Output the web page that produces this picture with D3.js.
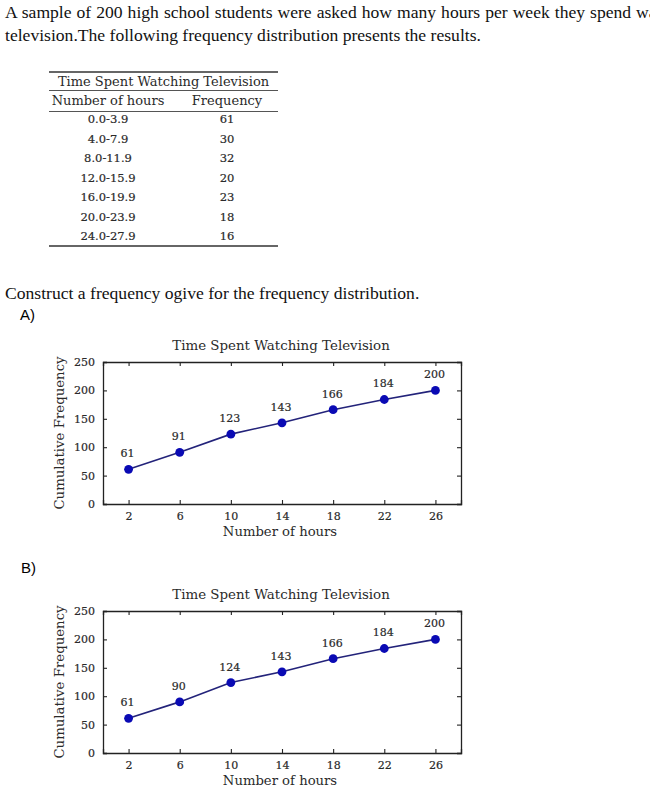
<!DOCTYPE html>
<html>
<head>
<meta charset="utf-8">
<script src="https://cdn.jsdelivr.net/npm/d3@7"></script>
<style>
  body { margin: 0; background: #fff; }
  svg { display: block; }
</style>
</head>
<body>
<div id="page"></div>
<script>
// Data
let hourRanges = ["0.0-3.9", "4.0-7.9", "8.0-11.9", "12.0-15.9", "16.0-19.9", "20.0-23.9", "24.0-27.9"];
let frequencies = [61, 30, 32, 20, 23, 18, 16];
let midpoints = [2, 6, 10, 14, 18, 22, 26];
let cumulativeA = [61, 91, 123, 143, 166, 184, 200];
let cumulativeB = [61, 90, 124, 143, 166, 184, 200];
let xTicks = [2, 6, 10, 14, 18, 22, 26];
let yTicks = [0, 50, 100, 150, 200, 250];

let times = "'Liberation Serif', serif";   // question text
let wide = "'DejaVu Serif', serif";        // LaTeX-ish table and chart text
let textColor = "#2a2a2a";
let lineColor = "#23237a";
let dotColor = "#0a0ab4";

let svg = d3.select("#page")
    .append("svg")
    .attr("width", 650)
    .attr("height", 809);

// Question text
let body = svg.append("g")
    .style("font-family", times)
    .style("font-size", "17.6px")
    .style("fill", "#111");

body.append("text").attr("x", 5).attr("y", 18)
    .attr("word-spacing", "0.6px")
    .text("A sample of 200 high school students were asked how many hours per week they spend watching");
body.append("text").attr("x", 5).attr("y", 41)
    .text("television.The following frequency distribution presents the results.");
body.append("text").attr("x", 5).attr("y", 299)
    .text("Construct a frequency ogive for the frequency distribution.");

svg.append("text").attr("x", 20).attr("y", 320)
    .style("font-family", "'Liberation Sans', sans-serif")
    .style("font-size", "15px")
    .text("A)");
svg.append("text").attr("x", 21).attr("y", 573)
    .style("font-family", "'Liberation Sans', sans-serif")
    .style("font-size", "15px")
    .text("B)");

// give the digits a bit more weight
function heavy(sel) {
    sel.style("stroke", textColor).style("stroke-width", 0.2);
}

// Frequency table
function drawTable() {
    let left = 49, right = 278;
    let colHours = 108, colFreq = 227;
    let rowTop = 123, rowStep = 19.5;

    let t = svg.append("g")
        .style("font-family", wide)
        .style("font-size", "13px")
        .style("fill", textColor);

    t.append("line").attr("x1", left).attr("x2", right).attr("y1", 72).attr("y2", 72)
        .style("stroke", "#333").style("stroke-width", 1.6);
    t.append("line").attr("x1", left).attr("x2", right).attr("y1", 90.5).attr("y2", 90.5)
        .style("stroke", "#555").style("stroke-width", 1);
    t.append("line").attr("x1", left).attr("x2", right).attr("y1", 111.5).attr("y2", 111.5)
        .style("stroke", "#555").style("stroke-width", 1);
    t.append("line").attr("x1", left).attr("x2", right).attr("y1", 246).attr("y2", 246)
        .style("stroke", "#333").style("stroke-width", 1.6);

    t.append("text").attr("x", (left + right) / 2).attr("y", 86)
        .attr("text-anchor", "middle")
        .text("Time Spent Watching Television");
    t.append("text").attr("x", colHours).attr("y", 105)
        .attr("text-anchor", "middle")
        .text("Number of hours");
    t.append("text").attr("x", colFreq).attr("y", 105)
        .attr("text-anchor", "middle")
        .text("Frequency");

    t.selectAll(".hrs")
        .data(hourRanges)
        .enter().append("text")
        .attr("class", "hrs")
        .attr("x", colHours)
        .attr("y", (d, i) => rowTop + i * rowStep)
        .attr("text-anchor", "middle")
        .style("font-size", "11.5px")
        .text(d => d)
        .call(heavy);

    t.selectAll(".freq")
        .data(frequencies)
        .enter().append("text")
        .attr("class", "freq")
        .attr("x", colFreq)
        .attr("y", (d, i) => rowTop + i * rowStep)
        .attr("text-anchor", "middle")
        .style("font-size", "11.5px")
        .text(d => d)
        .call(heavy);
}

// One ogive chart; top = y of the plot frame
function drawOgive(top, values) {
    let left = 103, right = 461;
    let height = 142;
    let bottom = top + height;

    let x = d3.scaleLinear().domain([0, 28]).range([left, right]);
    let y = d3.scaleLinear().domain([0, 250]).range([bottom, top]);

    let g = svg.append("g")
        .style("font-family", wide)
        .style("fill", textColor);

    // axes with inward ticks on all four sides
    let tickLen = 4;
    let axes = [
        d3.axisBottom(x).tickValues(xTicks).tickSize(-tickLen).tickPadding(8),
        d3.axisTop(x).tickValues(xTicks).tickSize(-tickLen).tickFormat(""),
        d3.axisLeft(y).tickValues(yTicks).tickSize(-tickLen).tickPadding(8),
        d3.axisRight(y).tickValues(yTicks).tickSize(-tickLen).tickFormat("")
    ];
    let shifts = [`translate(0,${bottom})`, `translate(0,${top})`,
                  `translate(${left},0)`, `translate(${right},0)`];

    axes.forEach((ax, i) => {
        let a = g.append("g").attr("transform", shifts[i]).call(ax);
        a.select(".domain").style("stroke", "#222").style("stroke-width", 1.3);
        a.selectAll(".tick line").style("stroke", "#222").style("stroke-width", 1.1);
        a.selectAll(".tick text")
            .style("font-family", wide)
            .style("font-size", "11px")
            .style("fill", textColor)
            .call(heavy);
    });

    g.append("text")
        .attr("x", (left + right) / 2 - 1)
        .attr("y", top - 12)
        .attr("text-anchor", "middle")
        .style("font-size", "13.4px")
        .text("Time Spent Watching Television");

    g.append("text")
        .attr("x", (left + right) / 2 - 2)
        .attr("y", bottom + 32)
        .attr("text-anchor", "middle")
        .style("font-size", "13.2px")
        .text("Number of hours");

    g.append("text")
        .attr("transform", `translate(64,${(top + bottom) / 2}) rotate(-90)`)
        .attr("text-anchor", "middle")
        .style("font-size", "13.3px")
        .text("Cumulative Frequency");

    let pts = midpoints.map((m, i) => [m, values[i]]);

    g.append("path")
        .datum(pts)
        .attr("d", d3.line().x(d => x(d[0])).y(d => y(d[1])))
        .style("fill", "none")
        .style("stroke", lineColor)
        .style("stroke-width", 1.6);

    g.selectAll(".dot")
        .data(pts)
        .enter().append("circle")
        .attr("class", "dot")
        .attr("cx", d => x(d[0]))
        .attr("cy", d => y(d[1]))
        .attr("r", 4.4)
        .style("fill", dotColor);

    g.selectAll(".lbl")
        .data(pts)
        .enter().append("text")
        .attr("class", "lbl")
        .attr("x", d => x(d[0]) - 1)
        .attr("y", d => y(d[1]) - 12)
        .attr("text-anchor", "middle")
        .style("font-size", "11px")
        .text(d => d[1])
        .call(heavy);
}

drawTable();
drawOgive(362, cumulativeA);
drawOgive(611, cumulativeB);
</script>
</body>
</html>
